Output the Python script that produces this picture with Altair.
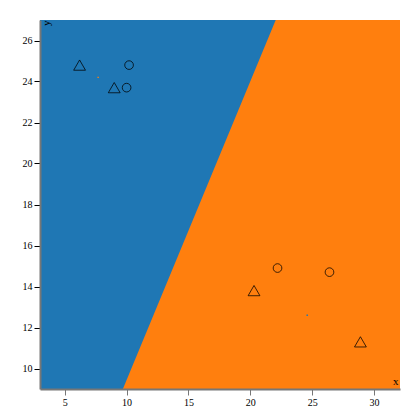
import altair as alt
import pandas as pd
import numpy as np

# data
pt_x = [6.2, 9.0, 10.2, 10.0, 22.2, 26.4, 20.3, 28.9]
pt_y = [24.8, 23.7, 24.8, 23.7, 14.9, 14.7, 13.8, 11.3]
pt_shape = ["triangle-up", "triangle-up", "circle", "circle",
            "circle", "circle", "triangle-up", "triangle-up"]

cent_x = [7.7, 24.6]
cent_y = [24.2, 12.6]
cent_color = ["#ff7f0e", "#1f77b4"]

x_dom = [3, 32.1]
y_dom = [9, 27]

# perpendicular bisector of the two centroids -> decision boundary
mx, my = (cent_x[0] + cent_x[1]) / 2, (cent_y[0] + cent_y[1]) / 2
dx, dy = cent_x[1] - cent_x[0], cent_y[1] - cent_y[0]
def bx(y):
    return mx - (y - my) * dy / dx

ys = y_dom
blue = pd.DataFrame({"y": ys, "x1": [x_dom[0]] * 2, "x2": [bx(v) for v in ys]})
orange = pd.DataFrame({"y": ys, "x1": [x_dom[0]] * 2, "x2": [x_dom[1]] * 2})

pts = pd.DataFrame({"x": pt_x, "y": pt_y, "shape": pt_shape})
cents = pd.DataFrame({"x": cent_x, "y": cent_y, "c": cent_color})

xs = alt.Scale(domain=x_dom, nice=False, zero=False)
yscale = alt.Scale(domain=y_dom, nice=False, zero=False)

xaxis = alt.Axis(title="x", values=[5, 10, 15, 20, 25, 30], grid=False, zindex=1,
                 titleAnchor="end", titleX=358, titleY=-3, titleAlign="right",
                 titleBaseline="bottom", titleFontWeight="normal",
                 titleFont="Liberation Serif", titleFontSize=11, titleColor="#000",
                 labelFont="Liberation Serif", labelFontSize=10, labelColor="#000",
                 tickColor="#777", domainColor="#777", domainWidth=2, tickSize=6)
yaxis = alt.Axis(title="y", values=list(range(10, 27, 2)), grid=False, zindex=1,
                 titleX=6, titleY=0, titleAngle=270, titleAlign="right",
                 titleBaseline="middle", titleFontWeight="normal",
                 titleFont="Liberation Serif", titleFontSize=11, titleColor="#000",
                 labelFont="Liberation Serif", labelFontSize=10, labelColor="#000",
                 tickColor="#000", domainColor="#777", domainWidth=2, tickSize=6)

area_o = alt.Chart(orange).mark_area(orient="horizontal", opacity=1, color="#ff7f0e").encode(
    y=alt.Y("y:Q", scale=yscale, axis=yaxis),
    x=alt.X("x1:Q", scale=xs, axis=xaxis),
    x2="x2:Q",
)
area_b = alt.Chart(blue).mark_area(orient="horizontal", opacity=1, color="#1f77b4").encode(
    y=alt.Y("y:Q", scale=yscale),
    x=alt.X("x1:Q", scale=xs),
    x2="x2:Q",
)

points = alt.Chart(pts).mark_point(filled=False, stroke="#000", strokeOpacity=0.75, strokeWidth=1, opacity=1).encode(
    x=alt.X("x:Q", scale=xs),
    y=alt.Y("y:Q", scale=yscale),
    shape=alt.Shape("shape:N", scale=None),
    size=alt.condition("datum.shape == 'circle'", alt.value(75), alt.value(140)),
)

cent = alt.Chart(cents).mark_square(size=2, opacity=1).encode(
    x=alt.X("x:Q", scale=xs),
    y=alt.Y("y:Q", scale=yscale),
    color=alt.Color("c:N", scale=None),
)

chart = alt.layer(area_o, area_b, points, cent).properties(
    width=360, height=369,
    autosize=alt.AutoSizeParams(type="none"),
    padding={"left": 40, "top": 20, "right": 20, "bottom": 31},
).configure_view(stroke=None)

chart.save("out.html", embed_options={"renderer": "svg", "actions": False})
